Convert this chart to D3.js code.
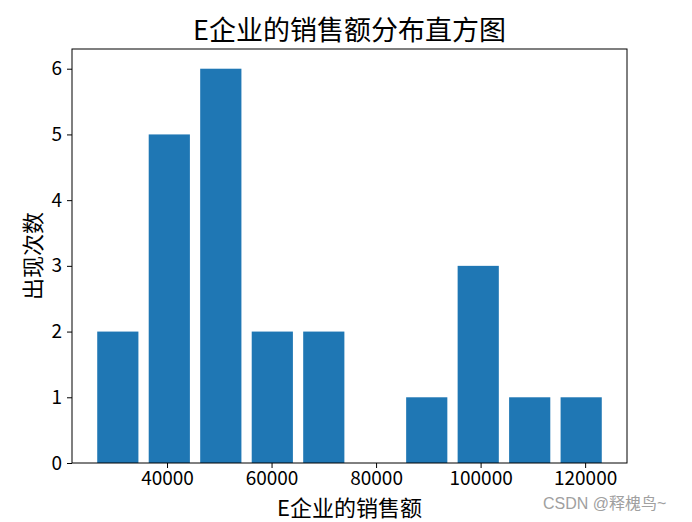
<!DOCTYPE html>
<html>
<head>
<meta charset="utf-8">
<script src="https://cdn.jsdelivr.net/npm/d3@7"></script>
<style>
  html, body { margin: 0; padding: 0; background: #fff; }
  svg text { font-family: "Noto Sans CJK SC", "Noto Sans", sans-serif; fill: #000; }
</style>
</head>
<body>
<div id="chart"></div>
<script>
// histogram bins
const binEdges = [25660, 35510, 45360, 55220, 65070, 74920, 84770, 94620, 104470, 114320, 124170];
const counts = [2, 5, 6, 2, 2, 0, 1, 3, 1, 1];
const xTicks = [40000, 60000, 80000, 100000, 120000];
const yTicks = [0, 1, 2, 3, 4, 5, 6];
const titleText = "E企业的销售额分布直方图";
const xLabel = "E企业的销售额";
const yLabel = "出现次数";

const width = 692;
const height = 522;
const margin = { top: 49, right: 65, bottom: 59, left: 72 };
const rwidth = 0.8;

const svg = d3.select("#chart").append("svg")
    .attr("width", width)
    .attr("height", height);

const bins = counts.map((c, i) => ({ x0: binEdges[i], x1: binEdges[i + 1], count: c }));
const barX0 = d => d.x0 + (1 - rwidth) / 2 * (d.x1 - d.x0);
const barX1 = d => d.x1 - (1 - rwidth) / 2 * (d.x1 - d.x0);

// matplotlib style 5% margins around the bars
const lo = d3.min(bins, barX0), hi = d3.max(bins, barX1);
const pad = (hi - lo) * 0.05;

const x = d3.scaleLinear()
    .domain([lo - pad, hi + pad])
    .range([margin.left, width - margin.right]);

const y = d3.scaleLinear()
    .domain([0, 6.3])
    .range([height - margin.bottom, margin.top]);

svg.append("g")
    .selectAll("rect")
    .data(bins)
    .join("rect")
    .attr("x", d => x(barX0(d)))
    .attr("width", d => x(barX1(d)) - x(barX0(d)))
    .attr("y", d => y(d.count))
    .attr("height", d => y(0) - y(d.count))
    .attr("fill", "#1f77b4");

const xAxis = svg.append("g")
    .attr("transform", `translate(0,${height - margin.bottom})`)
    .call(d3.axisBottom(x).tickValues(xTicks).tickFormat(d3.format("d")).tickSizeOuter(0).tickSize(5).tickPadding(4));

const yAxis = svg.append("g")
    .attr("transform", `translate(${margin.left},0)`)
    .call(d3.axisLeft(y).tickValues(yTicks).tickFormat(d3.format("d")).tickSizeOuter(0).tickSize(5).tickPadding(5));

[xAxis, yAxis].forEach(g => {
    g.select(".domain").remove();
    g.selectAll("line").attr("stroke", "#000").attr("stroke-width", 1);
    g.selectAll("text").attr("font-size", 19).attr("font-family", "Noto Sans CJK SC").attr("fill", "#000");
});

// frame
svg.append("rect")
    .attr("x", margin.left)
    .attr("y", margin.top)
    .attr("width", width - margin.left - margin.right)
    .attr("height", height - margin.top - margin.bottom)
    .attr("fill", "none")
    .attr("stroke", "#000")
    .attr("stroke-width", 1);

svg.append("text")
    .attr("x", (margin.left + width - margin.right) / 2)
    .attr("y", 40)
    .attr("text-anchor", "middle")
    .attr("font-size", 27)
    .text(titleText);

svg.append("text")
    .attr("x", (margin.left + width - margin.right) / 2)
    .attr("y", 516)
    .attr("text-anchor", "middle")
    .attr("font-size", 22)
    .text(xLabel);

svg.append("text")
    .attr("transform", `translate(41,${(margin.top + height - margin.bottom) / 2}) rotate(-90)`)
    .attr("text-anchor", "middle")
    .attr("font-size", 22)
    .text(yLabel);

svg.append("text")
    .attr("x", 543)
    .attr("y", 509)
    .attr("font-size", 16)
    .style("font-family", "'Liberation Sans', 'Noto Sans CJK SC', sans-serif")
    .style("fill", "#a0a0a0")
    .text("CSDN @释槐鸟~");
</script>
</body>
</html>
